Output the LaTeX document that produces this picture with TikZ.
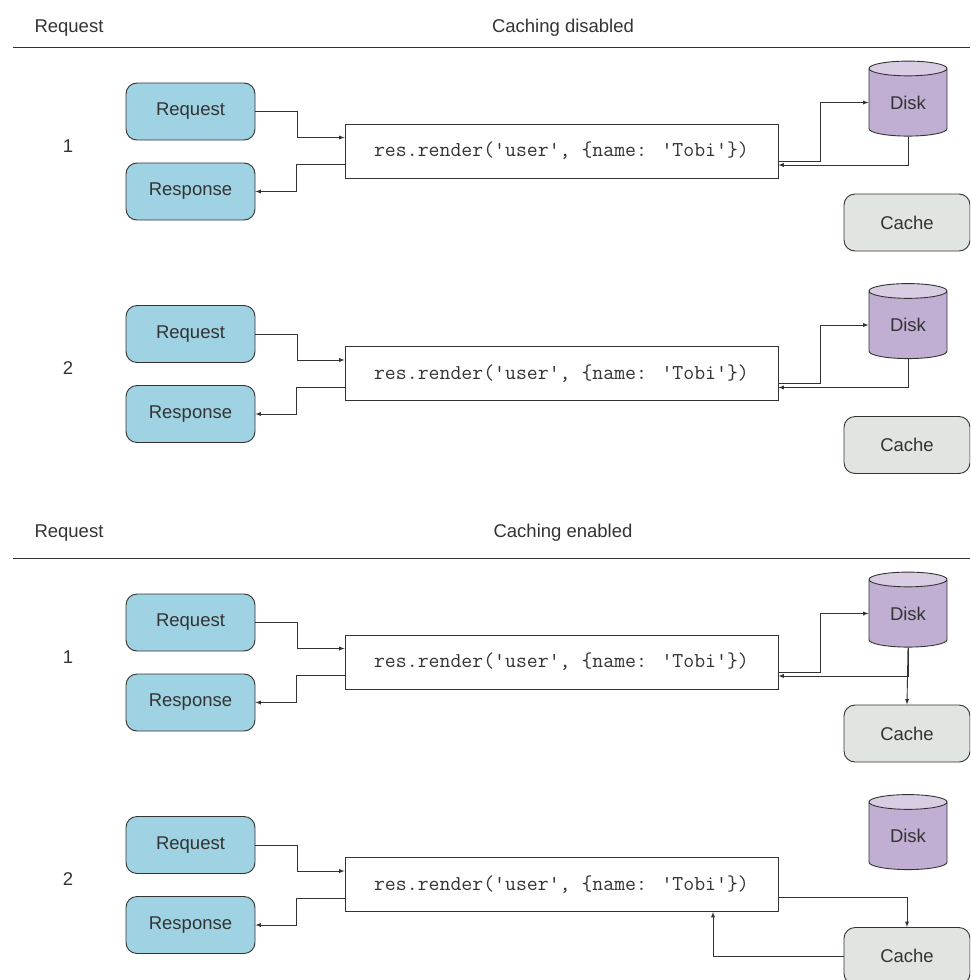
\documentclass[tikz,border=0pt]{standalone}
\usepackage{fontspec}
\setmainfont{Liberation Sans}
\usetikzlibrary{shapes.geometric}
\definecolor{reqblue}{HTML}{9FD2E3}
\definecolor{diskpurple}{HTML}{C1AED3}
\definecolor{disktop}{HTML}{D9CDE4}
\definecolor{cachegrey}{HTML}{E1E5E2}
\definecolor{inkgrey}{HTML}{333333}
\tikzset{
    reqbox/.style={draw=inkgrey, line width=0.9pt, rounded corners=11pt, fill=reqblue, minimum width=129pt, minimum height=57pt, inner sep=0pt},
    renderbox/.style={draw=inkgrey, line width=0.9pt, fill=white, minimum width=433pt, minimum height=54pt, inner sep=0pt, font=\fontsize{21.2}{24}\ttfamily},
    cachebox/.style={draw=inkgrey, line width=0.9pt, rounded corners=11pt, fill=cachegrey, minimum width=126pt, minimum height=57pt, inner sep=0pt},
    diskcyl/.style={draw=inkgrey, line width=0.9pt, cylinder, shape border rotate=90, aspect=0.41, cylinder uses custom fill, cylinder body fill=diskpurple, cylinder end fill=disktop, minimum width=78pt, minimum height=75pt, inner sep=0pt},
    link/.style={draw=inkgrey, line width=0.9pt, -latex},
    plainlink/.style={draw=inkgrey, line width=0.9pt}
}
\begin{document}
\begin{tikzpicture}[x=1pt, y=-1pt, font=\fontsize{18.5}{22}\selectfont, text=inkgrey]
    \useasboundingbox (0, 0) rectangle (970, 980);
    \clip (0, 0) rectangle (970, 980);
    % headers
    \node[anchor=west] (hreq) at (31, 28) {Request};
    \node (hoff) at (563, 28) {Caching disabled};
    \coordinate (loffa) at (13, 47);
    \coordinate (loffb) at (970, 47);
    \draw[plainlink] (loffa) -- (loffb);
    \node[anchor=west] (hreqb) at (31, 533) {Request};
    \node (hon) at (563, 533) {Caching enabled};
    \coordinate (lona) at (13, 558);
    \coordinate (lonb) at (970, 558);
    \draw[plainlink] (lona) -- (lonb);
    % the four rows
    \foreach \row/\dy/\num in {a/0/1, b/222.5/2, c/511/1, d/733.5/2} {
        \node (num\row) at (68, 146+\dy) {\num};
        \node[reqbox] (req\row) at (190.5, 111.5+\dy) {Request};
        \node[reqbox] (resp\row) at (190.5, 191.5+\dy) {Response};
        \node[renderbox] (render\row) at (561.5, 151+\dy) {res.render('user', \{name: 'Tobi'\})};
        \node[diskcyl] (disk\row) at (908, 102.5+\dy) {Disk};
        \node[cachebox] (cache\row) at (907, 222.5+\dy) {Cache};
        \draw[link] (req\row.east) -- ++(42, 0) |- ([yshift=13.5pt]render\row.west);
        \draw[link] ([yshift=-13.5pt]render\row.west) -- ++(-48, 0) |- (resp\row.east);
    }
    % disk links
    \foreach \row in {a, b, c} {
        \draw[link] ([yshift=-10pt]render\row.east) -- ++(42, 0) |- (disk\row.west);
        \draw[link] (disk\row.south) |- ([yshift=-14pt]render\row.east);
    }
    \draw[link] (diskc.south) -- (cachec.north);
    % cache hit
    \draw[link] ([yshift=-13pt]renderd.east) -| (cached.north);
    \draw[link] (cached.west) -| ([xshift=151.5pt]renderd.south);
\end{tikzpicture}
\end{document}
